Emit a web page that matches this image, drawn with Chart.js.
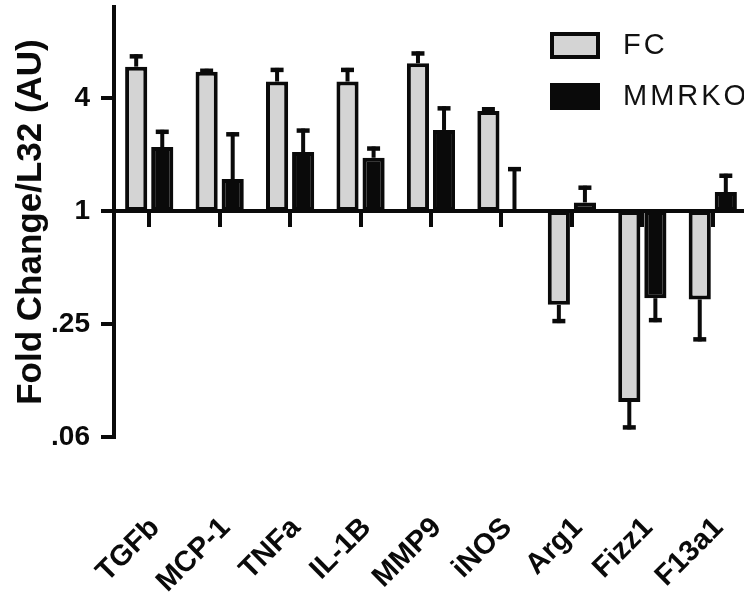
<!DOCTYPE html>
<html lang="en">
<head>
<meta charset="utf-8">
<title>Fold Change/L32 (AU)</title>
<script src="https://cdn.jsdelivr.net/npm/chart.js@4"></script>
<style>
html, body { margin: 0; padding: 0; background: #fff; }
#wrap { width: 744px; height: 600px; overflow: hidden; }
canvas { display: block; }
</style>
</head>
<body>
<div id="wrap"><canvas id="fold-chart" width="748" height="600"></canvas></div>
<script>
const genes = ['TGFb', 'MCP-1', 'TNFa', 'IL-1B', 'MMP9', 'iNOS', 'Arg1', 'Fizz1', 'F13a1'];
const fcMean = [5.87, 5.52, 4.89, 4.89, 6.12, 3.41, 0.316, 0.096, 0.338];
const fcErr = [6.66, 5.58, 5.64, 5.64, 6.9, 3.48, 0.259, 0.0703, 0.207];
const koMean = [2.19, 1.48, 2.06, 1.92, 2.70, 1.0, 1.11, 0.343, 1.26];
const koErr = [2.64, 2.56, 2.68, 2.15, 3.52, 1.67, 1.33, 0.262, 1.54];
const yTicks = [0.0625, 0.25, 1, 4];
const yTickLabels = ['.06', '.25', '1', '4'];

const ink = '#0a0a0a';
Chart.defaults.font.family = '"Liberation Sans", Arial, sans-serif';
Chart.defaults.color = ink;

// one-sided SEM bars, drawn away from the baseline at 1
const errorBars = {
  id: 'errorBars',
  afterDatasetsDraw(chart) {
    const ctx = chart.ctx;
    const y = chart.scales.y;
    [fcErr, koErr].forEach((errs, di) => {
      const meta = chart.getDatasetMeta(di);
      const data = chart.data.datasets[di].data;
      meta.data.forEach((bar, i) => {
        const y0 = y.getPixelForValue(data[i][1]);
        const y1 = y.getPixelForValue(errs[i]);
        const dir = y1 < y0 ? -1 : 1;
        ctx.save();
        ctx.strokeStyle = ink;
        ctx.lineWidth = 4;
        ctx.beginPath();
        ctx.moveTo(bar.x, y0);
        ctx.lineTo(bar.x, y1 + dir * 2);
        ctx.stroke();
        ctx.lineWidth = 4.5;
        ctx.beginPath();
        ctx.moveTo(bar.x - 6.5, y1);
        ctx.lineTo(bar.x + 6.5, y1);
        ctx.stroke();
        ctx.restore();
      });
    });
  }
};

// Prism style legend in the upper right corner
const boxLegend = {
  id: 'boxLegend',
  afterDraw(chart) {
    const ctx = chart.ctx;
    chart.data.datasets.forEach((ds, i) => {
      const top = 32 + i * 51;
      ctx.save();
      ctx.fillStyle = ds.borderColor;
      ctx.fillRect(550, top, 50, 27);
      ctx.fillStyle = ds.backgroundColor;
      ctx.fillRect(554, top + 4, 42, 19);
      ctx.font = '29px "Liberation Sans", Arial, sans-serif';
      ctx.letterSpacing = '3px';
      ctx.fillStyle = '#111';
      ctx.textBaseline = 'middle';
      ctx.fillText(ds.label, 623, top + 14);
      ctx.restore();
    });
  }
};

const data = {
  labels: genes,
  datasets: [
    {
      label: 'FC',
      data: fcMean.map(v => [1, v]),
      backgroundColor: '#d4d4d4',
      borderColor: ink,
      borderWidth: 4,
      borderSkipped: false,
      categoryPercentage: 0.74,
      barPercentage: 0.85
    },
    {
      label: 'MMRKO',
      data: koMean.map(v => [1, v]),
      backgroundColor: ink,
      borderColor: ink,
      borderWidth: 4,
      borderSkipped: false,
      categoryPercentage: 0.74,
      barPercentage: 0.85
    }
  ]
};

const config = {
  type: 'bar',
  data: data,
  options: {
    responsive: false,
    animation: false,
    layout: { padding: { top: 7, left: 0, right: 0, bottom: 0 } },
    plugins: {
      legend: { display: false },
      tooltip: { enabled: false }
    },
    scales: {
      x: {
        type: 'category',
        position: { y: 1 },
        offset: true,
        grid: { drawOnChartArea: false, offset: false, color: ink, lineWidth: 4, tickLength: 14 },
        border: { color: ink, width: 4 },
        ticks: { display: false },
        afterFit: (s) => { s.height = 0; s.paddingLeft = 0; s.paddingRight = 0; }
      },
      xLabels: {
        type: 'category',
        position: 'bottom',
        offset: true,
        grid: { display: false },
        border: { display: false },
        ticks: {
          autoSkip: false,
          maxRotation: 45,
          minRotation: 45,
          padding: 66,
          labelOffset: 6,
          font: { size: 29, weight: 'bold' }
        },
        afterFit: (s) => { s.height = 163; s.paddingLeft = 0; s.paddingRight = 0; }
      },
      y: {
        type: 'logarithmic',
        min: 0.0625,
        max: 12.2,
        afterBuildTicks: (s) => { s.ticks = yTicks.map(v => ({ value: v })); },
        ticks: {
          autoSkip: false,
          padding: 11,
          font: { size: 28, weight: 'bold' },
          callback: (v, i) => yTickLabels[i]
        },
        grid: { drawOnChartArea: false, color: ink, lineWidth: 4, tickLength: 13 },
        border: { color: ink, width: 4 },
        title: {
          display: true,
          text: 'Fold Change/L32 (AU)',
          font: { size: 35, weight: 'bold' },
          padding: { top: 10, bottom: 0 }
        },
        afterFit: (s) => { s.width = 114; s.paddingTop = 0; s.paddingBottom = 0; }
      }
    }
  },
  plugins: [errorBars, boxLegend]
};

const foldChart = new Chart(document.getElementById('fold-chart'), config);
</script>
</body>
</html>
